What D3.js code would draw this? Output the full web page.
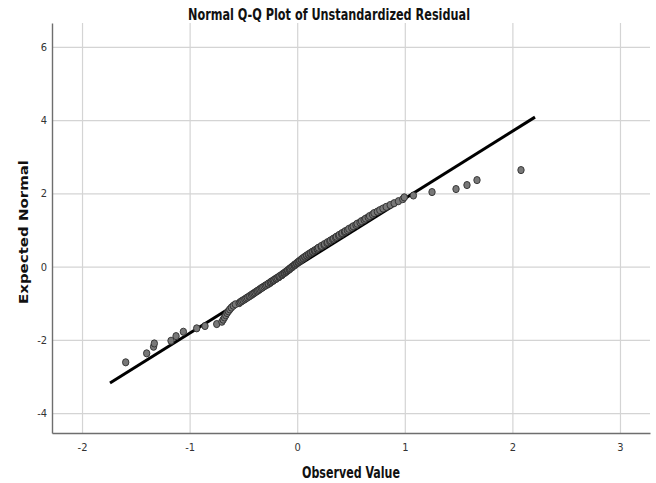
<!DOCTYPE html>
<html>
<head>
<meta charset="utf-8">
<script src="https://cdn.jsdelivr.net/npm/d3@7"></script>
<style>
  html, body { margin: 0; padding: 0; background: #ffffff; }
  svg { display: block; }
</style>
</head>
<body>
<svg id="chart" width="656" height="483"></svg>
<script>
// ---------- data ----------
const chartTitle = "Normal Q-Q Plot of Unstandardized Residual";
const xAxisTitle = "Observed Value";
const yAxisTitle = "Expected Normal";

const xTicks = [-2, -1, 0, 1, 2, 3];
const xTickLabels = ["-2", "-1", "0", "1", "2", "3"];
const yTicks = [-4, -2, 0, 2, 4, 6];
const yTickLabels = ["-4", "-2", "0", "2", "4", "6"];

const xDomain = [-2.279, 3.279];
const yDomain = [-4.545, 6.65];

// reference line (observed value -> expected normal)
const lineObserved = [-1.74, 2.21];
const lineExpected = [-3.18, 4.08];

// observed residuals (sorted)
const observed = [
  -1.594, -1.399, -1.335, -1.328, -1.173, -1.126, -1.058, -0.934, -0.857, -0.748, -0.700,
  -0.688, -0.676, -0.664, -0.652, -0.640, -0.627, -0.612, -0.594, -0.575,
  -0.540, -0.529, -0.516, -0.503, -0.487, -0.476, -0.463, -0.448, -0.440, -0.425, -0.414,
  -0.402, -0.391, -0.377, -0.368, -0.356, -0.346, -0.333, -0.322, -0.309, -0.296,
  -0.284, -0.270, -0.268, -0.251, -0.249, -0.240, -0.226, -0.222, -0.213, -0.198,
  -0.196, -0.185, -0.170, -0.168, -0.160, -0.143, -0.141, -0.133, -0.121, -0.117,
  -0.105, -0.101, -0.090, -0.086, -0.073, -0.071, -0.064, -0.050, -0.049, -0.040,
  -0.028, -0.026, -0.019, -0.006, -0.004, 0.008, 0.010, 0.023, 0.025, 0.038,
  0.040, 0.054, 0.055, 0.070, 0.072, 0.087, 0.089, 0.104, 0.107, 0.121,
  0.126, 0.141, 0.144, 0.160, 0.166, 0.183, 0.188,
  0.198, 0.222, 0.226, 0.250, 0.254, 0.277, 0.282, 0.303, 0.310, 0.330,
  0.338, 0.357, 0.364, 0.385, 0.391, 0.413, 0.418, 0.440, 0.446, 0.467,
  0.480, 0.506, 0.520, 0.546, 0.557, 0.584, 0.597, 0.622, 0.636, 0.660, 0.673, 0.700, 0.714, 0.745,
  0.768, 0.797, 0.827, 0.864, 0.901, 0.941, 0.981,
  0.995, 1.080, 1.253, 1.476, 1.578, 1.671, 2.080
];

// expected normal values (same order)
const expected = [
  -2.615, -2.370, -2.190, -2.100, -2.026, -1.900, -1.780, -1.687, -1.624, -1.570, -1.507,
  -1.450, -1.390, -1.330, -1.270, -1.220, -1.170, -1.120, -1.070, -1.030,
  -1.000, -0.970, -0.945, -0.920, -0.895, -0.870, -0.845, -0.820, -0.800, -0.775, -0.750,
  -0.730, -0.705, -0.680, -0.660, -0.640, -0.615, -0.590, -0.570, -0.545, -0.520,
  -0.500, -0.480, -0.465, -0.447, -0.430, -0.410, -0.395, -0.377, -0.360, -0.342,
  -0.325, -0.307, -0.290, -0.272, -0.255, -0.237, -0.220, -0.202, -0.185, -0.167,
  -0.150, -0.132, -0.115, -0.097, -0.080, -0.062, -0.045, -0.027, -0.010, 0.008,
  0.025, 0.043, 0.060, 0.078, 0.095, 0.113, 0.130, 0.148, 0.165, 0.183,
  0.200, 0.218, 0.235, 0.253, 0.270, 0.288, 0.305, 0.323, 0.340, 0.358,
  0.375, 0.393, 0.410, 0.430, 0.450, 0.470, 0.490,
  0.515, 0.540, 0.565, 0.590, 0.615, 0.640, 0.665, 0.690, 0.715, 0.740,
  0.765, 0.790, 0.815, 0.840, 0.865, 0.890, 0.915, 0.940, 0.965, 0.990,
  1.030, 1.065, 1.100, 1.135, 1.170, 1.205, 1.240, 1.275, 1.310, 1.345, 1.380, 1.420, 1.460, 1.500,
  1.540, 1.585, 1.630, 1.680, 1.730, 1.785, 1.840,
  1.890, 1.940, 2.034, 2.116, 2.225, 2.360, 2.634
];

// ---------- layout ----------
const plot = { left: 52, right: 650, top: 23, bottom: 433 };
const svg = d3.select("#chart");

const x = d3.scaleLinear().domain(xDomain).range([plot.left, plot.right]);
const y = d3.scaleLinear().domain(yDomain).range([plot.bottom, plot.top]);

const narrow = "'Liberation Sans Narrow', 'DejaVu Sans Condensed', 'Liberation Sans', sans-serif";

// gridlines
const gx = svg.append("g")
  .attr("transform", `translate(0,${plot.bottom})`)
  .call(d3.axisBottom(x).tickValues(xTicks).tickSize(-(plot.bottom - plot.top)).tickFormat(""));
gx.select(".domain").remove();
gx.selectAll(".tick line").attr("stroke", "#d4d4d4").attr("stroke-width", 1.2);

const gy = svg.append("g")
  .attr("transform", `translate(${plot.left},0)`)
  .call(d3.axisLeft(y).tickValues(yTicks).tickSize(-(plot.right - plot.left)).tickFormat(""));
gy.select(".domain").remove();
gy.selectAll(".tick line").attr("stroke", "#d4d4d4").attr("stroke-width", 1.2);

// axes with labels
const ax = svg.append("g")
  .attr("transform", `translate(0,${plot.bottom})`)
  .call(d3.axisBottom(x).tickValues(xTicks).tickSize(0).tickSizeOuter(0).tickPadding(10)
    .tickFormat((d, i) => xTickLabels[i]));
ax.select(".domain").attr("stroke", "#6e6e6e").attr("stroke-width", 1.4);
ax.selectAll(".tick text").attr("font-family", narrow).attr("font-size", 11).attr("fill", "#333");

const ay = svg.append("g")
  .attr("transform", `translate(${plot.left},0)`)
  .call(d3.axisLeft(y).tickValues(yTicks).tickSize(0).tickSizeOuter(0).tickPadding(5)
    .tickFormat((d, i) => yTickLabels[i]));
ay.select(".domain").attr("stroke", "#6e6e6e").attr("stroke-width", 1.4);
ay.selectAll(".tick text").attr("font-family", narrow).attr("font-size", 11).attr("fill", "#333");

// reference line
const lineData = lineObserved.map((v, i) => [v, lineExpected[i]]);
svg.append("path")
  .datum(lineData)
  .attr("fill", "none")
  .attr("stroke", "#000")
  .attr("stroke-width", 3)
  .attr("d", d3.line().x(d => x(d[0])).y(d => y(d[1])));

// points
const pts = observed.map((v, i) => ({ o: v, e: expected[i] }));
svg.append("g").selectAll("ellipse")
  .data(pts)
  .join("ellipse")
  .attr("cx", d => x(d.o))
  .attr("cy", d => y(d.e))
  .attr("rx", 3.2)
  .attr("ry", 3.6)
  .attr("fill", "#787878")
  .attr("stroke", "#2e2e2e")
  .attr("stroke-width", 0.9);

// titles
svg.append("text")
  .attr("x", (plot.left + plot.right) / 2 - 22)
  .attr("y", 19.5)
  .attr("text-anchor", "middle")
  .attr("font-family", narrow)
  .attr("font-weight", "bold")
  .attr("font-size", 15)
  .attr("textLength", 282)
  .attr("lengthAdjust", "spacingAndGlyphs")
  .attr("fill", "#111")
  .text(chartTitle);

svg.append("text")
  .attr("x", (plot.left + plot.right) / 2)
  .attr("y", 478)
  .attr("text-anchor", "middle")
  .attr("font-family", narrow)
  .attr("font-weight", "bold")
  .attr("font-size", 15)
  .attr("textLength", 98)
  .attr("lengthAdjust", "spacingAndGlyphs")
  .attr("fill", "#111")
  .text(xAxisTitle);

svg.append("text")
  .attr("transform", `translate(28,${(plot.top + plot.bottom) / 2 + 4}) rotate(-90)`)
  .attr("text-anchor", "middle")
  .attr("font-family", "'DejaVu Sans', 'Verdana', sans-serif")
  .attr("font-weight", "bold")
  .attr("font-size", 13)
  .attr("textLength", 144)
  .attr("lengthAdjust", "spacingAndGlyphs")
  .attr("fill", "#111")
  .text(yAxisTitle);
</script>
</body>
</html>
